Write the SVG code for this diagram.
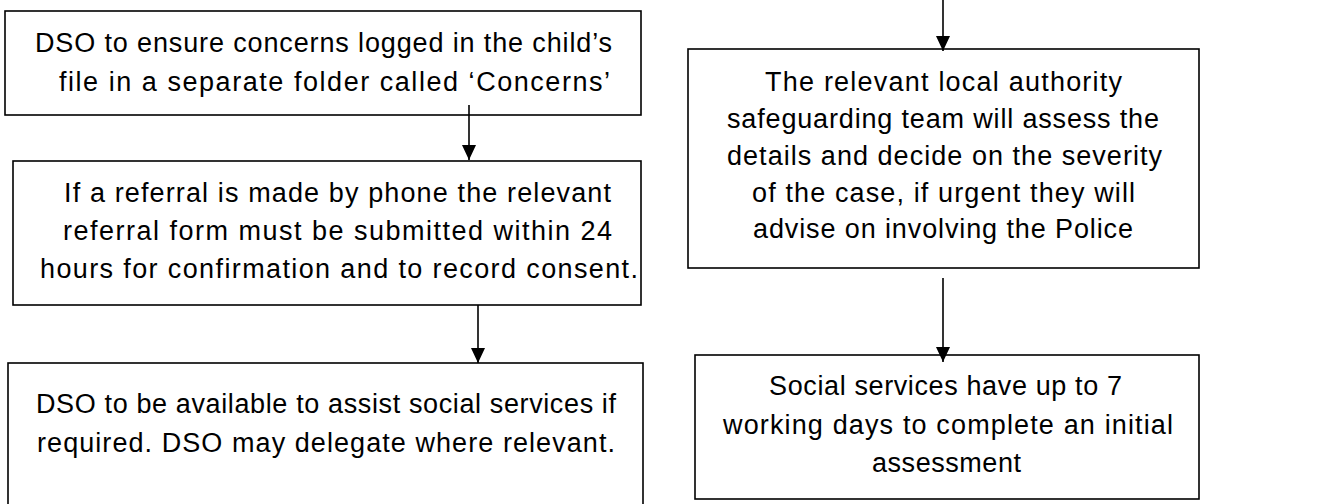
<svg xmlns="http://www.w3.org/2000/svg" width="1341" height="504" viewBox="0 0 1341 504">
<style>
.box{fill:#fff;stroke:#000;stroke-width:1.6}
.t{font-family:"Liberation Sans",Arial,sans-serif;font-size:27px;fill:#000}
.c{stroke:#000;stroke-width:1.6;fill:none}
</style>
<defs>
<marker id="ah" viewBox="0 0 15 14" refX="15" refY="7" markerUnits="userSpaceOnUse" markerWidth="15" markerHeight="14" orient="auto">
<path d="M0,0 L15,7 L0,14 z" fill="#000"/>
</marker>
</defs>
<rect width="1341" height="504" fill="#fff"/>
<g id="node-concerns">
<rect class="box" x="5" y="11" width="636" height="104"/>
<text class="t" x="35" y="52" textLength="577">DSO to ensure concerns logged in the child’s</text>
<text class="t" x="59" y="91" textLength="551">file in a separate folder called ‘Concerns’</text>
</g>
<g id="node-referral">
<rect class="box" x="13" y="161" width="628" height="144"/>
<text class="t" x="64" y="202" textLength="547">If a referral is made by phone the relevant</text>
<text class="t" x="63" y="240" textLength="549">referral form must be submitted within 24</text>
<text class="t" x="40" y="278" textLength="598">hours for confirmation and to record consent.</text>
</g>
<g id="node-dso-available">
<rect class="box" x="8" y="363" width="635" height="160"/>
<text class="t" x="36" y="413" textLength="580">DSO to be available to assist social services if</text>
<text class="t" x="37" y="452" textLength="578">required. DSO may delegate where relevant.</text>
</g>
<g id="node-local-authority">
<rect class="box" x="688" y="49" width="511" height="219"/>
<text class="t" x="765" y="91" textLength="357">The relevant local authority</text>
<text class="t" x="727" y="128" textLength="432">safeguarding team will assess the</text>
<text class="t" x="727" y="165" textLength="435">details and decide on the severity</text>
<text class="t" x="752" y="202" textLength="383">of the case, if urgent they will</text>
<text class="t" x="753" y="238" textLength="380">advise on involving the Police</text>
</g>
<g id="node-social-services">
<rect class="box" x="695" y="355" width="504" height="144"/>
<text class="t" x="769" y="395" textLength="353">Social services have up to 7</text>
<text class="t" x="723" y="434" textLength="450">working days to complete an initial</text>
<text class="t" x="872" y="472" textLength="149">assessment</text>
</g>
<g id="connectors">
<line class="c" x1="469" y1="105" x2="469" y2="160" marker-end="url(#ah)"/>
<line class="c" x1="478" y1="305" x2="478" y2="363" marker-end="url(#ah)"/>
<line class="c" x1="943" y1="0" x2="943" y2="51" marker-end="url(#ah)"/>
<line class="c" x1="943" y1="278" x2="943" y2="362" marker-end="url(#ah)"/>
</g>
</svg>
